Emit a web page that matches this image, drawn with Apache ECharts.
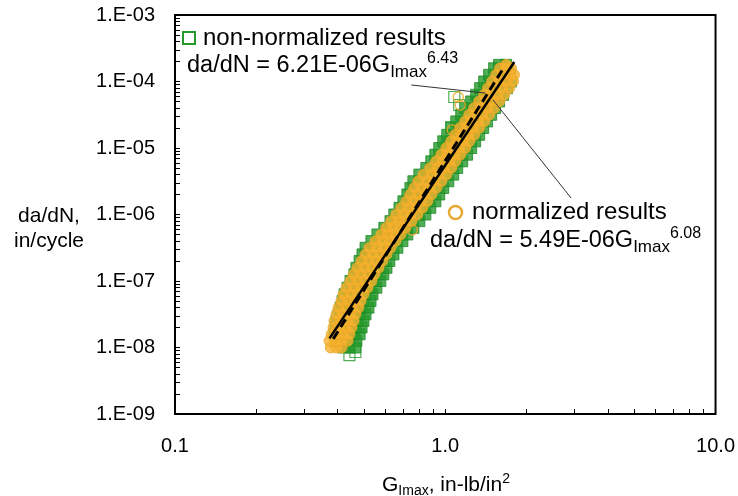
<!DOCTYPE html>
<html>
<head>
<meta charset="utf-8">
<script src="https://cdn.jsdelivr.net/npm/echarts@6/dist/echarts.min.js"></script>
<style>
  html, body { margin: 0; padding: 0; background: #fff; }
  #chart { width: 738px; height: 496px; }
</style>
</head>
<body>
<div id="chart"></div>
<script>
// crack growth rate rows (da/dN, in/cycle), one row per 0.1 decade
const rates = [
  1.0e-8, 1.26e-8, 1.58e-8, 2.0e-8, 2.51e-8, 3.16e-8, 3.98e-8, 5.01e-8, 6.31e-8, 7.94e-8,
  1.0e-7, 1.26e-7, 1.58e-7, 2.0e-7, 2.51e-7, 3.16e-7, 3.98e-7, 5.01e-7, 6.31e-7, 7.94e-7,
  1.0e-6, 1.26e-6, 1.58e-6, 2.0e-6, 2.51e-6, 3.16e-6, 3.98e-6, 5.01e-6, 6.31e-6, 7.94e-6,
  1.0e-5, 1.26e-5, 1.58e-5, 2.0e-5, 2.51e-5, 3.16e-5, 3.98e-5, 5.01e-5, 6.31e-5, 7.94e-5,
  1.0e-4, 1.26e-4, 1.58e-4, 1.78e-4
];

// G_Imax values read along each row, non-normalized (green squares)
const greenG = [
  [0.420, 0.442, 0.465],
  [0.396, 0.417, 0.442, 0.469],
  [0.389, 0.410, 0.435, 0.458, 0.482],
  [0.393, 0.413, 0.439, 0.465, 0.490],
  [0.396, 0.420, 0.446, 0.473, 0.498],
  [0.403, 0.428, 0.454, 0.482, 0.507],
  [0.410, 0.435, 0.461, 0.490, 0.520],
  [0.417, 0.442, 0.469, 0.498, 0.529],
  [0.424, 0.450, 0.477, 0.507, 0.538],
  [0.435, 0.461, 0.490, 0.524, 0.556],
  [0.446, 0.473, 0.507, 0.542, 0.575],
  [0.461, 0.490, 0.524, 0.556, 0.590],
  [0.469, 0.502, 0.538, 0.571, 0.606],
  [0.482, 0.515, 0.552, 0.585, 0.621],
  [0.494, 0.529, 0.566, 0.606, 0.643],
  [0.507, 0.542, 0.580, 0.621, 0.665],
  [0.533, 0.571, 0.611, 0.654, 0.694],
  [0.561, 0.601, 0.643, 0.682, 0.724],
  [0.595, 0.637, 0.677, 0.718, 0.762],
  [0.627, 0.665, 0.706, 0.749, 0.802],
  [0.648, 0.694, 0.743, 0.795, 0.844],
  [0.677, 0.724, 0.775, 0.830, 0.880],
  [0.700, 0.749, 0.802, 0.858, 0.919],
  [0.724, 0.775, 0.830, 0.888, 0.950],
  [0.743, 0.795, 0.858, 0.919, 0.983],
  [0.762, 0.822, 0.888, 0.958, 1.026],
  [0.802, 0.858, 0.926, 1.000, 1.070],
  [0.851, 0.911, 0.975, 1.043, 1.107],
  [0.888, 0.950, 1.017, 1.089, 1.155],
  [0.919, 0.983, 1.052, 1.126, 1.205],
  [0.950, 1.017, 1.089, 1.165, 1.247],
  [0.983, 1.052, 1.126, 1.205, 1.290],
  [1.017, 1.089, 1.165, 1.247, 1.335],
  [1.052, 1.126, 1.205, 1.290, 1.381],
  [1.098, 1.175, 1.258, 1.346, 1.428],
  [1.146, 1.226, 1.301, 1.393, 1.478],
  [1.185, 1.268, 1.346, 1.440, 1.529],
  [1.247, 1.323, 1.404, 1.490, 1.582],
  [1.301, 1.381, 1.465, 1.555, 1.636],
  [1.346, 1.428, 1.516, 1.609, 1.693],
  [1.393, 1.478, 1.568, 1.664, 1.751],
  [1.453, 1.542, 1.636, 1.737],
  [1.516, 1.609, 1.708],
  [1.582, 1.679]
];

// normalized (orange circles)
const orangeG = [
  [0.377, 0.396, 0.413],
  [0.373, 0.393, 0.413, 0.435],
  [0.380, 0.400, 0.420, 0.442],
  [0.386, 0.406, 0.428, 0.450],
  [0.389, 0.410, 0.435, 0.458],
  [0.396, 0.417, 0.442, 0.465],
  [0.403, 0.428, 0.454, 0.477],
  [0.413, 0.435, 0.461, 0.486],
  [0.420, 0.446, 0.473, 0.498],
  [0.431, 0.458, 0.486, 0.515],
  [0.446, 0.473, 0.502, 0.533],
  [0.458, 0.486, 0.515, 0.547],
  [0.473, 0.502, 0.533, 0.566],
  [0.490, 0.520, 0.552, 0.585],
  [0.507, 0.538, 0.571, 0.606],
  [0.524, 0.556, 0.590, 0.627],
  [0.552, 0.585, 0.621, 0.654],
  [0.580, 0.611, 0.648, 0.682],
  [0.606, 0.637, 0.677, 0.712],
  [0.632, 0.671, 0.706, 0.749],
  [0.659, 0.700, 0.743, 0.788],
  [0.688, 0.730, 0.775, 0.822],
  [0.718, 0.762, 0.809, 0.858],
  [0.743, 0.788, 0.837, 0.888],
  [0.768, 0.816, 0.865, 0.926],
  [0.795, 0.851, 0.903, 0.967],
  [0.830, 0.888, 0.942, 1.009],
  [0.880, 0.934, 0.992, 1.052],
  [0.926, 0.975, 1.035, 1.089],
  [0.967, 1.017, 1.080, 1.136],
  [1.009, 1.061, 1.126, 1.185],
  [1.052, 1.107, 1.165, 1.226],
  [1.089, 1.146, 1.216, 1.279],
  [1.136, 1.195, 1.268, 1.335],
  [1.185, 1.247, 1.323, 1.393],
  [1.226, 1.290, 1.369, 1.453],
  [1.279, 1.346, 1.428, 1.516],
  [1.335, 1.404, 1.490, 1.582],
  [1.393, 1.465, 1.555, 1.650],
  [1.440, 1.529, 1.622, 1.722],
  [1.490, 1.582, 1.679, 1.781],
  [1.542, 1.636, 1.737, 1.796],
  [1.595, 1.679, 1.751],
  [1.679]
];

// stray points outside the dense band [G, da/dN]
const greenStray = [[0.895, 3.66e-6], [0.950, 6.6e-6], [1.009, 1.04e-5], [1.052, 2.07e-5],
  [1.080, 5.85e-5], [1.126, 4.43e-5], [0.442, 7.7e-9], [0.465, 8.55e-9]];
const orangeStray = [[1.117, 5.85e-5], [1.136, 4.4e-5], [1.061, 1.87e-5], [0.756, 5.85e-7]];

// power-law fit lines, end points
const fitNonNorm = [[0.385, 1.35e-8], [1.66, 1.70e-4]];
const fitNorm = [[0.373, 1.37e-8], [1.80, 1.96e-4]];

// annotation arrows (start -> tip)
const arrowNonNorm = [[0.749, 8.86e-5], [1.405, 6.71e-5]];
const arrowNorm = [[2.92, 1.77e-6], [1.503, 5.27e-5]];

// ticks
const xLabelValues = [0.1, 1, 10];
const xTickLabels = ['0.1', '1.0', '10.0'];
const yLabelValues = [1e-9, 1e-8, 1e-7, 1e-6, 1e-5, 1e-4, 1e-3];
const yTickLabels = ['1.E-09', '1.E-08', '1.E-07', '1.E-06', '1.E-05', '1.E-04', '1.E-03'];
const minorSteps = [1, 2, 3, 4, 5, 6, 7, 8, 9];

const FONT = "'Liberation Sans', Arial, sans-serif";
const GREEN = '#259a2c';
const ORANGE = '#f6b22e';

function rowsToPoints(rows) {
  const pts = [];
  rows.forEach((gs, i) => gs.forEach(g => pts.push([g, rates[i]])));
  return pts;
}

function tickValues(decades) {
  const out = [];
  decades.forEach(d => minorSteps.forEach(m => out.push(Number((d * m).toPrecision(3)))));
  return out;
}

const xTicks = tickValues([0.1, 1]).filter(v => v > 0.1 && v < 10);
const yTicks = tickValues([1e-9, 1e-8, 1e-7, 1e-6, 1e-5, 1e-4]).filter(v => v > 1e-9 && v < 1e-3);

const chart = echarts.init(document.getElementById('chart'));

const eqRich = (size) => ({
  m: { fontSize: size, fontFamily: FONT, color: '#000', lineHeight: 34, verticalAlign: 'middle' },
  sub: { fontSize: 17, fontFamily: FONT, color: '#000', lineHeight: 17, verticalAlign: 'bottom', padding: [0, 0, 2, 0] },
  sup: { fontSize: 16, fontFamily: FONT, color: '#000', lineHeight: 16, verticalAlign: 'top', padding: [2, 0, 0, 0] }
});

chart.setOption({
  animation: false,
  backgroundColor: '#fff',
  grid: {
    left: 175, right: 21, top: 15, bottom: 82,
    show: true, borderColor: '#000', borderWidth: 2, backgroundColor: 'transparent'
  },
  xAxis: {
    type: 'log', logBase: 10, min: 0.1, max: 10,
    axisLine: { show: false },
    splitLine: { show: false },
    axisTick: { show: true, inside: true, length: 5, customValues: xTicks, lineStyle: { color: '#000', width: 1 } },
    axisLabel: {
      customValues: xLabelValues,
      formatter: v => xTickLabels[Math.round(Math.log10(v)) + 1],
      color: '#000', fontSize: 20, fontFamily: FONT, margin: 22
    }
  },
  yAxis: {
    type: 'log', logBase: 10, min: 1e-9, max: 1e-3,
    axisLine: { show: false },
    splitLine: { show: false },
    axisTick: { show: true, inside: true, length: 5, customValues: yTicks, lineStyle: { color: '#000', width: 1 } },
    axisLabel: {
      customValues: yLabelValues,
      formatter: v => yTickLabels[Math.round(Math.log10(v)) + 9],
      color: '#000', fontSize: 20, fontFamily: FONT, margin: 20
    }
  },
  series: [
    {
      type: 'scatter', name: 'non-normalized results', silent: true,
      symbol: 'rect', symbolSize: 11,
      itemStyle: { color: GREEN, borderColor: '#1c8a24', borderWidth: 1 },
      data: rowsToPoints(greenG)
    },
    {
      type: 'scatter', silent: true, symbol: 'rect', symbolSize: 11,
      itemStyle: { color: 'rgba(255,255,255,0)', borderColor: GREEN, borderWidth: 1.2 },
      data: greenStray
    },
    {
      type: 'scatter', name: 'normalized results', silent: true,
      symbol: 'circle', symbolSize: 11,
      itemStyle: { color: ORANGE, borderColor: '#eba727', borderWidth: 1 },
      data: rowsToPoints(orangeG)
    },
    {
      type: 'scatter', silent: true, symbol: 'circle', symbolSize: 10,
      itemStyle: { color: 'rgba(255,255,255,0)', borderColor: '#eba727', borderWidth: 1.5 },
      data: orangeStray
    },
    {
      type: 'line', silent: true, showSymbol: false, symbol: 'none',
      lineStyle: { color: '#000', width: 3, type: [9, 5] },
      data: fitNonNorm
    },
    {
      type: 'line', silent: true, showSymbol: false, symbol: 'none',
      lineStyle: { color: '#000', width: 2.5 },
      data: fitNorm,
      markLine: {
        silent: true, animation: false,
        symbol: ['none', 'arrow'], symbolSize: [0, 9],
        lineStyle: { color: '#333', width: 1, type: 'solid' },
        label: { show: false },
        data: [
          [{ coord: arrowNonNorm[0] }, { coord: arrowNonNorm[1] }],
          [{ coord: arrowNorm[0] }, { coord: arrowNorm[1] }]
        ]
      }
    }
  ],
  graphic: [
    // y axis title
    {
      type: 'text', x: 49, y: 229,
      style: {
        text: 'da/dN,\nin/cycle', fontSize: 21, fontFamily: FONT, fill: '#000',
        align: 'center', verticalAlign: 'middle', lineHeight: 25
      }
    },
    // x axis title
    {
      type: 'text', x: 446, y: 485,
      style: {
        text: '{m|G}{sub|Imax}{m|, in-lb/in}{sup|2}',
        align: 'center', verticalAlign: 'middle',
        rich: {
          m: { fontSize: 21, fontFamily: FONT, color: '#000', lineHeight: 30, verticalAlign: 'middle' },
          sub: { fontSize: 14, fontFamily: FONT, color: '#000', lineHeight: 14, verticalAlign: 'bottom', padding: [0, 0, 2, 0] },
          sup: { fontSize: 14, fontFamily: FONT, color: '#000', lineHeight: 14, verticalAlign: 'top', padding: [2, 0, 0, 0] }
        }
      }
    },
    // legend: non-normalized
    {
      type: 'rect', shape: { x: 183, y: 32, width: 12, height: 12 },
      style: { fill: 'none', stroke: GREEN, lineWidth: 2 }
    },
    {
      type: 'text', x: 203, y: 38,
      style: { text: 'non-normalized results', fontSize: 24, fontFamily: FONT, fill: '#000', verticalAlign: 'middle' }
    },
    {
      type: 'text', x: 187, y: 66,
      style: { text: '{m|da/dN = 6.21E-06G}{sub|Imax}{sup|6.43}', verticalAlign: 'middle', rich: eqRich(23.5) }
    },
    // legend: normalized
    {
      type: 'circle', shape: { cx: 455.5, cy: 212.5, r: 6.5 },
      style: { fill: 'none', stroke: '#e8a833', lineWidth: 2.5 }
    },
    {
      type: 'text', x: 472, y: 212,
      style: { text: 'normalized results', fontSize: 24, fontFamily: FONT, fill: '#000', verticalAlign: 'middle' }
    },
    {
      type: 'text', x: 430, y: 241,
      style: { text: '{m|da/dN = 5.49E-06G}{sub|Imax}{sup|6.08}', verticalAlign: 'middle', rich: eqRich(23.5) }
    }
  ]
});
</script>
</body>
</html>
